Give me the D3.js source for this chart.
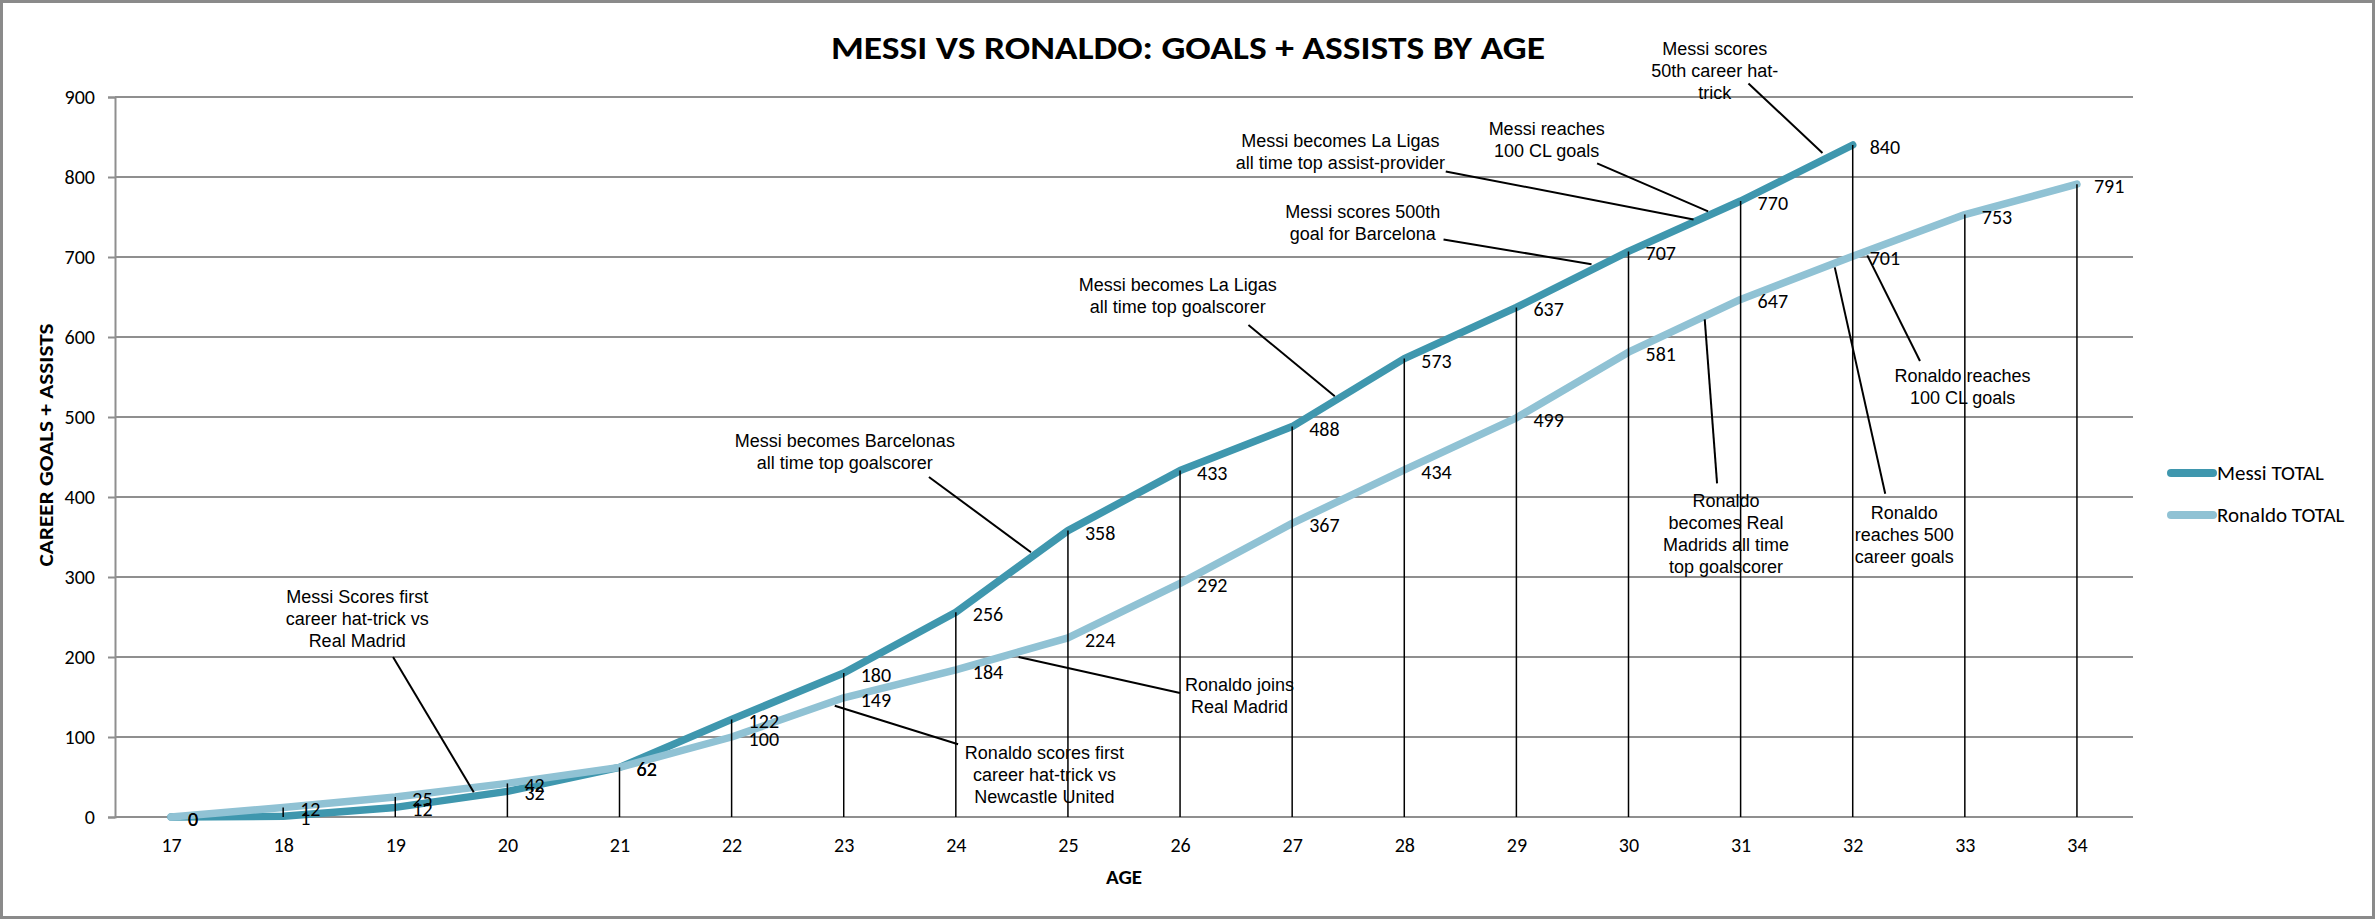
<!DOCTYPE html>
<html lang="en">
<head>
    <meta charset="UTF-8">
    <title>Messi vs Ronaldo: Goals + Assists by Age</title>
    <script src="https://cdnjs.cloudflare.com/ajax/libs/d3/7.8.5/d3.min.js"></script>
    <style>
        body { margin: 0; background: #fff; }
        svg { display: block; }
        .tick text { font-family: Carlito, Calibri, "Open Sans", sans-serif; font-size: 20px; fill: #000; }
        .note { font-family: "Liberation Sans", Arial, sans-serif; font-size: 18px; fill: #000; }
    </style>
</head>
<body>
    <svg width="2375" height="919"></svg>

    <script>
        // data
        const ages = [17, 18, 19, 20, 21, 22, 23, 24, 25, 26, 27, 28, 29, 30, 31, 32, 33, 34];
        const messiTotal = [0, 1, 12, 32, 62, 122, 180, 256, 358, 433, 488, 573, 637, 707, 770, 840];
        const ronaldoTotal = [0, 12, 25, 42, 62, 100, 149, 184, 224, 292, 367, 434, 499, 581, 647, 701, 753, 791];
        const yTicks = [0, 100, 200, 300, 400, 500, 600, 700, 800, 900];
        const seriesNames = ["Messi TOTAL", "Ronaldo TOTAL"];

        // callouts, in chart units (age, goals + assists)
        const notes = [
            { lines: ["Messi Scores first", "career hat-trick vs", "Real Madrid"], at: [18.66, 276], from: [18.98, 200], to: [19.70, 31] },
            { lines: ["Messi becomes Barcelonas", "all time top goalscorer"], at: [23.01, 470], from: [23.76, 425], to: [24.67, 331] },
            { lines: ["Ronaldo joins", "Real Madrid"], at: [26.53, 165], from: [26.00, 155], to: [24.56, 200] },
            { lines: ["Ronaldo scores first", "career hat-trick vs", "Newcastle United"], at: [24.79, 81], from: [24.02, 91], to: [22.92, 139] },
            { lines: ["Messi becomes La Ligas", "all time top goalscorer"], at: [25.98, 665], from: [26.61, 615], to: [27.38, 526] },
            { lines: ["Messi scores 500th", "goal for Barcelona"], at: [27.63, 757], from: [28.35, 722], to: [29.67, 691] },
            { lines: ["Messi becomes La Ligas", "all time top assist-provider"], at: [27.43, 845], from: [28.37, 807], to: [30.58, 747] },
            { lines: ["Messi reaches", "100 CL goals"], at: [29.27, 860], from: [29.72, 817], to: [30.71, 757] },
            { lines: ["Messi scores", "50th career hat-", "trick"], at: [30.77, 961], from: [31.07, 917], to: [31.73, 830] },
            { lines: ["Ronaldo", "becomes Real", "Madrids all time", "top goalscorer"], at: [30.87, 395], from: [30.79, 417], to: [30.68, 622] },
            { lines: ["Ronaldo", "reaches 500", "career goals"], at: [32.46, 381], from: [32.29, 404], to: [31.84, 687] },
            { lines: ["Ronaldo reaches", "100 CL goals"], at: [32.98, 552], from: [32.60, 570], to: [32.13, 702] }
        ];

        const svg = d3.select("svg");
        const W = 2375, H = 919;
        const plotLeft = 115, plotRight = 2133, plotTop = 97, plotBottom = 817;
        const colors = ["#3f97ae", "#90c2d4"];
        const labelFont = "Carlito, Calibri, 'Open Sans', sans-serif";

        svg.append("rect")
            .attr("x", 1.5).attr("y", 1.5)
            .attr("width", W - 3).attr("height", H - 3)
            .attr("fill", "#fff")
            .attr("stroke", "#8a8a8a")
            .attr("stroke-width", 3);

        const x = d3.scaleLinear().domain([16.5, 34.5]).range([plotLeft, plotRight]);
        const y = d3.scaleLinear().domain([0, 900]).range([plotBottom, plotTop]);

        // gridlines
        svg.append("g")
            .selectAll("line")
            .data(yTicks)
            .enter()
            .append("line")
            .attr("x1", plotLeft).attr("x2", plotRight)
            .attr("y1", d => y(d)).attr("y2", d => y(d))
            .attr("stroke", "#8f8f8f")
            .attr("stroke-width", 2);

        const yAxis = svg.append("g")
            .attr("transform", `translate(${plotLeft},0)`)
            .call(d3.axisLeft(y).tickValues(yTicks).tickSize(7).tickPadding(13));
        yAxis.selectAll("path, line").attr("stroke", "#8f8f8f").attr("stroke-width", 2);

        const xAxis = svg.append("g")
            .attr("transform", `translate(0,${plotBottom})`)
            .call(d3.axisBottom(x).tickValues(ages).tickSize(0).tickPadding(21).tickFormat(d3.format("d")));
        xAxis.select(".domain").remove();

        // axis titles
        svg.append("text")
            .attr("x", (plotLeft + plotRight) / 2).attr("y", 884)
            .attr("text-anchor", "middle")
            .style("font-family", labelFont)
            .style("font-weight", "bold").style("font-size", "21px")
            .text("AGE");

        svg.append("text")
            .attr("transform", "translate(53,445) rotate(-90)")
            .attr("text-anchor", "middle")
            .attr("textLength", 243)
            .attr("lengthAdjust", "spacingAndGlyphs")
            .style("font-family", labelFont)
            .style("font-weight", "bold").style("font-size", "21px")
            .text("CAREER GOALS + ASSISTS");

        svg.append("text")
            .attr("x", 1188).attr("y", 59)
            .attr("text-anchor", "middle")
            .attr("textLength", 714)
            .attr("lengthAdjust", "spacingAndGlyphs")
            .style("font-family", labelFont)
            .style("font-weight", "bold").style("font-size", "33px")
            .text("MESSI VS RONALDO: GOALS + ASSISTS BY AGE");

        // series
        const series = [messiTotal, ronaldoTotal].map((vals, i) => ({
            name: seriesNames[i],
            color: colors[i],
            points: vals.map((v, j) => ({ age: ages[j], value: v }))
        }));

        const line = d3.line().x(d => x(d.age)).y(d => y(d.value));

        svg.append("g")
            .selectAll("path")
            .data(series)
            .enter()
            .append("path")
            .attr("d", d => line(d.points))
            .attr("fill", "none")
            .attr("stroke", d => d.color)
            .attr("stroke-width", 7.5)
            .attr("stroke-linejoin", "round")
            .attr("stroke-linecap", "round");

        // drop lines from the highest point at each age
        const highest = ages.map((a, i) => ({
            age: a,
            value: d3.max([messiTotal[i], ronaldoTotal[i]].filter(v => v !== undefined))
        }));

        svg.append("g")
            .selectAll("line")
            .data(highest.filter(d => d.value > 0))
            .enter()
            .append("line")
            .attr("x1", d => x(d.age)).attr("x2", d => x(d.age))
            .attr("y1", d => y(d.value)).attr("y2", plotBottom)
            .attr("stroke", "#000")
            .attr("stroke-width", 1.5);

        // data labels
        svg.append("g")
            .selectAll("g")
            .data(series)
            .enter()
            .append("g")
            .selectAll("text")
            .data(d => d.points)
            .enter()
            .append("text")
            .attr("x", d => x(d.age) + 17)
            .attr("y", d => y(d.value) + 2)
            .attr("dy", "0.35em")
            .style("font-family", labelFont)
            .style("font-size", "20px")
            .text(d => d.value);

        // callouts
        const noteG = svg.append("g");
        notes.forEach(n => {
            noteG.append("line")
                .attr("x1", x(n.from[0])).attr("y1", y(n.from[1]))
                .attr("x2", x(n.to[0])).attr("y2", y(n.to[1]))
                .attr("stroke", "#000")
                .attr("stroke-width", 2);

            noteG.append("text")
                .attr("class", "note")
                .attr("text-anchor", "middle")
                .selectAll("tspan")
                .data(n.lines)
                .enter()
                .append("tspan")
                .attr("x", x(n.at[0]))
                .attr("y", (d, i) => y(n.at[1]) + i * 22)
                .attr("dy", "0.35em")
                .text(d => d);
        });

        // legend
        const legend = svg.append("g")
            .selectAll("g")
            .data(series)
            .enter()
            .append("g")
            .attr("transform", (d, i) => `translate(2171,${473 + i * 42})`);

        legend.append("line")
            .attr("x1", 0).attr("x2", 42)
            .attr("stroke", d => d.color)
            .attr("stroke-width", 8)
            .attr("stroke-linecap", "round");

        legend.append("text")
            .attr("x", 46)
            .attr("dy", "0.35em")
            .style("font-family", labelFont)
            .style("font-size", "21px")
            .text(d => d.name);
    </script>
</body>
</html>
